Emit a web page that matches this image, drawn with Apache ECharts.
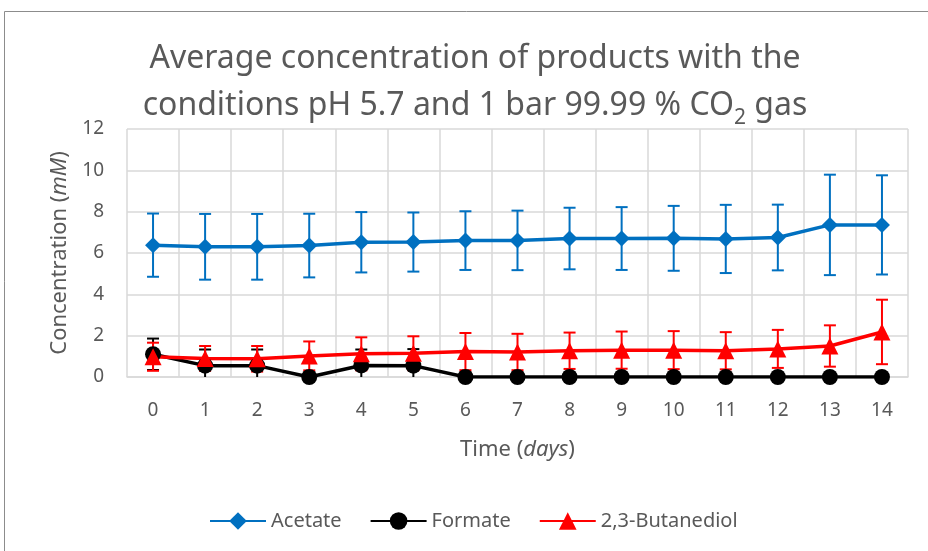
<!DOCTYPE html>
<html>
<head>
<meta charset="utf-8">
<script src="https://cdn.jsdelivr.net/npm/echarts@6/dist/echarts.min.js"></script>
<style>
  html, body { margin: 0; padding: 0; background: #fff; }
  #chart { width: 928px; height: 551px; }
</style>
</head>
<body>
<div id="chart"></div>
<script>
const days = ["0", "1", "2", "3", "4", "5", "6", "7", "8", "9", "10", "11", "12", "13", "14"];
const yTicks = [0, 2, 4, 6, 8, 10, 12];

const acetate = [6.38, 6.3, 6.3, 6.36, 6.52, 6.53, 6.6, 6.61, 6.7, 6.7, 6.71, 6.68, 6.75, 7.36, 7.36];
const acetateErr = [1.53, 1.59, 1.59, 1.54, 1.46, 1.43, 1.42, 1.44, 1.49, 1.52, 1.57, 1.65, 1.59, 2.43, 2.4];

const formate = [1.1, 0.55, 0.55, 0, 0.56, 0.55, 0, 0, 0, 0, 0, 0, 0, 0, 0];
const formateErr = [0.76, 0.78, 0.78, 0, 0.77, 0.8, 0, 0, 0, 0, 0, 0, 0, 0, 0];

const butanediol = [0.98, 0.9, 0.88, 1.02, 1.12, 1.15, 1.23, 1.21, 1.27, 1.3, 1.3, 1.27, 1.36, 1.5, 2.18];
const butanediolErr = [0.68, 0.6, 0.62, 0.7, 0.8, 0.82, 0.9, 0.88, 0.88, 0.9, 0.92, 0.9, 0.92, 1.0, 1.56];

const FONT = "Noto Sans";
const TXT = "#595959";

// error bars as a custom series, clipped to the plot area like Excel does
function errorBars(name, vals, errs, color) {
  return {
    type: "custom",
    name: name + " error",
    data: vals.map((v, i) => [i, v - errs[i], v + errs[i]]),
    renderItem(params, api) {
      const cs = params.coordSys;
      const hi = api.coord([api.value(0), api.value(2)]);
      const lo = api.coord([api.value(0), api.value(1)]);
      const x = hi[0];
      const bottom = cs.y + cs.height;
      const loY = Math.min(lo[1], bottom);
      const cap = 6;
      const style = { stroke: color, lineWidth: 2 };
      const children = [
        { type: "line", shape: { x1: x, y1: hi[1], x2: x, y2: loY }, style },
        { type: "line", shape: { x1: x - cap, y1: hi[1], x2: x + cap, y2: hi[1] }, style }
      ];
      if (lo[1] <= bottom) {
        children.push({ type: "line", shape: { x1: x - cap, y1: lo[1], x2: x + cap, y2: lo[1] }, style });
      }
      return { type: "group", children };
    },
    silent: true
  };
}

function lineSeries(name, vals, color, symbol, size) {
  return {
    type: "line",
    name,
    data: vals,
    symbol,
    symbolSize: size,
    showAllSymbol: true,
    lineStyle: { color, width: 3.5 },
    itemStyle: { color },
    emphasis: { disabled: true }
  };
}

const chart = echarts.init(document.getElementById("chart"));
chart.setOption({
  animation: false,
  textStyle: { fontFamily: FONT },
  graphic: [
    {
      type: "rect",
      shape: { x: 4.5, y: 11.5, width: 1000, height: 1000 },
      style: { fill: "none", stroke: "#8c8c8c", lineWidth: 1 },
      silent: true
    }
  ],
  title: {
    text: "{a|Average concentration of products with the}\n{a|conditions pH 5.7 and 1 bar 99.99 % CO}{s|2}{a| gas}",
    left: 470,
    top: 30,
    textAlign: "center",
    textStyle: {
      fontWeight: "normal",
      rich: {
        a: { fontSize: 32, lineHeight: 47, color: TXT, fontFamily: FONT, fontWeight: "normal" },
        s: { fontSize: 21, lineHeight: 22, color: TXT, fontFamily: FONT, fontWeight: "normal", verticalAlign: "bottom" }
      }
    }
  },
  legend: {
    left: 204,
    top: 506,
    itemWidth: 56,
    itemHeight: 22,
    itemGap: 28,
    data: ["Acetate", "Formate", "2,3-Butanediol"],
    textStyle: { fontSize: 20, color: TXT, fontFamily: FONT }
  },
  grid: { left: 127, right: 20, top: 129, bottom: 174 },
  xAxis: {
    type: "category",
    data: days,
    boundaryGap: true,
    name: "{n|Time (}{i|days}{n|)}",
    nameLocation: "middle",
    nameGap: 62,
    nameTextStyle: {
      rich: {
        n: { fontSize: 22, color: TXT, fontFamily: FONT },
        i: { fontSize: 22, color: TXT, fontFamily: FONT, fontStyle: "italic" }
      }
    },
    axisLine: { lineStyle: { color: "#d9d9d9", width: 1.5 } },
    axisTick: { show: false },
    axisLabel: { fontSize: 19, color: TXT, margin: 24, interval: 0 },
    splitLine: { show: true, lineStyle: { color: "#d9d9d9", width: 1.5 } }
  },
  yAxis: {
    type: "value",
    min: yTicks[0],
    max: yTicks[yTicks.length - 1],
    interval: yTicks[1] - yTicks[0],
    name: "{n|Concentration (}{i|mM}{n|)}",
    nameLocation: "middle",
    nameGap: 56,
    nameRotate: 90,
    nameTextStyle: {
      rich: {
        n: { fontSize: 22, color: TXT, fontFamily: FONT },
        i: { fontSize: 22, color: TXT, fontFamily: FONT, fontStyle: "italic" }
      }
    },
    axisLine: { show: false },
    axisTick: { show: false },
    axisLabel: { fontSize: 19, color: TXT, margin: 23 },
    splitLine: { lineStyle: { color: "#d9d9d9", width: 1.5 } }
  },
  series: [
    errorBars("Acetate", acetate, acetateErr, "#0070C0"),
    lineSeries("Acetate", acetate, "#0070C0", "diamond", 16),
    errorBars("Formate", formate, formateErr, "#000000"),
    lineSeries("Formate", formate, "#000000", "circle", 16),
    errorBars("2,3-Butanediol", butanediol, butanediolErr, "#FF0000"),
    lineSeries("2,3-Butanediol", butanediol, "#FF0000", "triangle", 17)
  ]
});
</script>
</body>
</html>
